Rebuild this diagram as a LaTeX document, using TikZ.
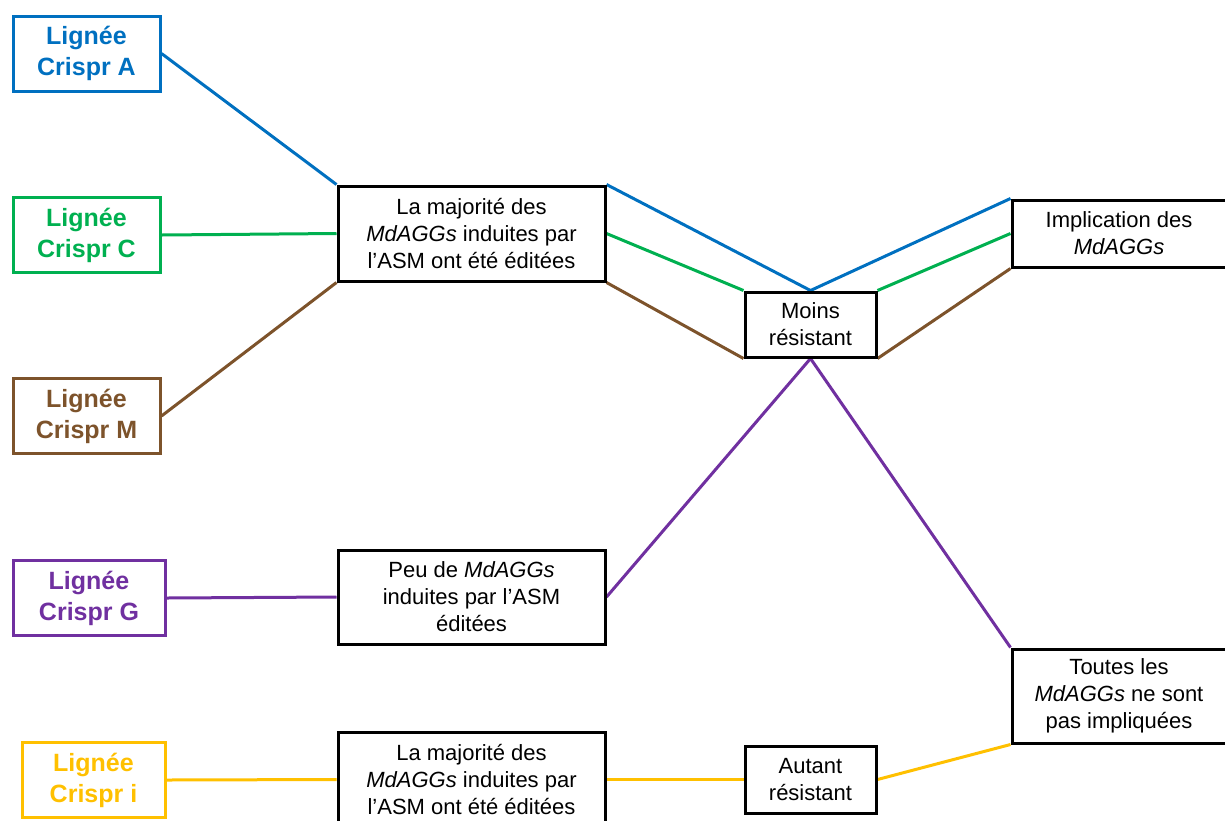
\documentclass[tikz,border=0pt]{standalone}
\usepackage{fontspec}
\setmainfont{Liberation Sans}
\usetikzlibrary{backgrounds}
\definecolor{cblue}{HTML}{0070C0}
\definecolor{cgreen}{HTML}{00B050}
\definecolor{cbrown}{RGB}{125,83,43}
\definecolor{cpurple}{HTML}{7030A0}
\definecolor{cyellow}{HTML}{FFC000}
\tikzset{
  lignee/.style={draw=#1, text=#1, line width=3pt, inner sep=0pt, align=center,
    font=\fontsize{25}{31}\selectfont\bfseries, minimum height=75pt},
  result/.style={draw=black, line width=3pt, inner sep=0pt, align=center, fill=white,
    font=\fontsize{22}{27}\selectfont},
  conn/.style={draw=#1, line width=3pt}
}
\begin{document}
\begin{tikzpicture}[x=1pt,y=-1pt]
\useasboundingbox (0,0) rectangle (1225,820);
% left line boxes
\node[lignee=cblue, minimum width=147pt] (A) at (86.5,53.5) {Lignée\\Crispr A};
\node[lignee=cgreen, minimum width=147pt] (C) at (86.5,235) {Lignée\\Crispr C};
\node[lignee=cbrown, minimum width=147pt] (M) at (86.5,416) {Lignée\\Crispr M};
\node[lignee=cpurple, minimum width=152pt] (G) at (89,598) {Lignée\\Crispr G};
\node[lignee=cyellow, minimum width=143pt] (I) at (93.5,780) {Lignée\\Crispr i};
% middle boxes
\node[result, minimum width=267pt, minimum height=95pt] (b1) at (471.5,233.5)
  {La majorité des\\\textit{MdAGGs} induites par\\l’ASM ont été éditées};
\node[result, minimum width=267pt, minimum height=94pt] (b2) at (471.5,597)
  {Peu de \textit{MdAGGs}\\induites par l’ASM\\éditées};
\node[result, minimum width=267pt, minimum height=95pt] (b3) at (471.5,779.5)
  {La majorité des\\\textit{MdAGGs} induites par\\l’ASM ont été éditées};
% resistance boxes
\node[result, minimum width=131pt, minimum height=65pt] (moins) at (810.5,324.5)
  {Moins\\résistant};
\node[result, minimum width=131pt, minimum height=67pt] (autant) at (810.5,779.5)
  {Autant\\résistant};
% right boxes
\node[result, minimum width=214pt, minimum height=67pt] (impl) at (1119,233.5)
  {Implication des\\\textit{MdAGGs}};
\node[result, minimum width=214pt, minimum height=94pt] (toutes) at (1119,696)
  {Toutes les\\\textit{MdAGGs} ne sont\\pas impliquées};
% connectors
\begin{scope}[on background layer]
\draw[conn=cblue] (A.east) -- (b1.north west);
\draw[conn=cgreen] (C.east) -- (b1.west);
\draw[conn=cbrown] (M.east) -- (b1.south west);
\draw[conn=cblue] (b1.north east) -- (moins.north) -- (impl.north west);
\draw[conn=cgreen] (b1.east) -- (moins.north west);
\draw[conn=cgreen] (moins.north east) -- (impl.west);
\draw[conn=cbrown] (b1.south east) -- (moins.south west);
\draw[conn=cbrown] (moins.south east) -- (impl.south west);
\draw[conn=cpurple] (G.east) -- (b2.west);
\draw[conn=cpurple] (b2.east) -- (moins.south) -- (toutes.north west);
\draw[conn=cyellow] (I.east) -- (b3.west);
\draw[conn=cyellow] (b3.east) -- (autant.west);
\draw[conn=cyellow] (autant.east) -- (toutes.south west);
\end{scope}
\end{tikzpicture}
\end{document}
